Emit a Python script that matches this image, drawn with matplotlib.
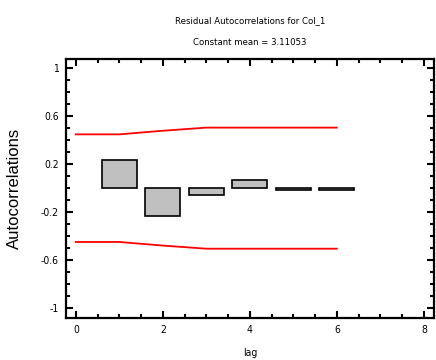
import numpy as np
import matplotlib.pyplot as plt
from matplotlib.ticker import MultipleLocator

# Datos
lags = [1, 2, 3, 4, 5, 6]
autocorr = [0.236, -0.232, -0.058, 0.07, -0.015, -0.015]
lag_limites = [0, 1, 2, 3, 4, 5, 6]
limite_sup = [0.448, 0.448, 0.478, 0.504, 0.504, 0.504, 0.504]
limite_inf = [-0.448, -0.448, -0.478, -0.504, -0.504, -0.504, -0.504]

estrecha = dict(family="DejaVu Sans", stretch="condensed")

fig = plt.figure(figsize=(4.36, 3.6), dpi=100)
ax = fig.add_axes([0.151, 0.117, 0.844, 0.719])

ax.bar(lags, autocorr, width=0.8, color="#c0c0c0", edgecolor="black", linewidth=1.2)
ax.plot(lag_limites, limite_sup, color="red", lw=1.3)
ax.plot(lag_limites, limite_inf, color="red", lw=1.3)

ax.set_xlim(-0.23, 8.23)
ax.set_ylim(-1.08, 1.075)
ax.xaxis.set_major_locator(MultipleLocator(2))
ax.xaxis.set_minor_locator(MultipleLocator(0.5))
ax.set_yticks([-1, -0.6, -0.2, 0.2, 0.6, 1])
ax.set_yticklabels(["-1", "-0.6", "-0.2", "0.2", "0.6", "1"])
ax.yaxis.set_minor_locator(MultipleLocator(0.1))
ax.tick_params(which="both", direction="in", top=True, right=True, width=1.5)
ax.tick_params(which="major", length=5, labelsize=7.5, pad=5)
ax.tick_params(which="minor", length=3)
for lbl in ax.get_xticklabels() + ax.get_yticklabels():
    lbl.set(**estrecha)
for s in ax.spines.values():
    s.set_linewidth(1.6)

ax.set_xlabel("lag", fontsize=7.5, **estrecha)
ax.xaxis.set_label_coords(0.5, -0.115)
ax.set_ylabel("Autocorrelations", fontsize=12, family=["Liberation Sans", "DejaVu Sans"])
ax.yaxis.set_label_coords(-0.12, 0.5)
fig.text(0.573, 0.942, "Residual Autocorrelations for Col_1", ha="center", va="center",
         fontsize=6.8, **estrecha)
fig.text(0.573, 0.881, "Constant mean = 3.11053", ha="center", va="center",
         fontsize=6.8, **estrecha)

fig.savefig("out.png", dpi=100)
